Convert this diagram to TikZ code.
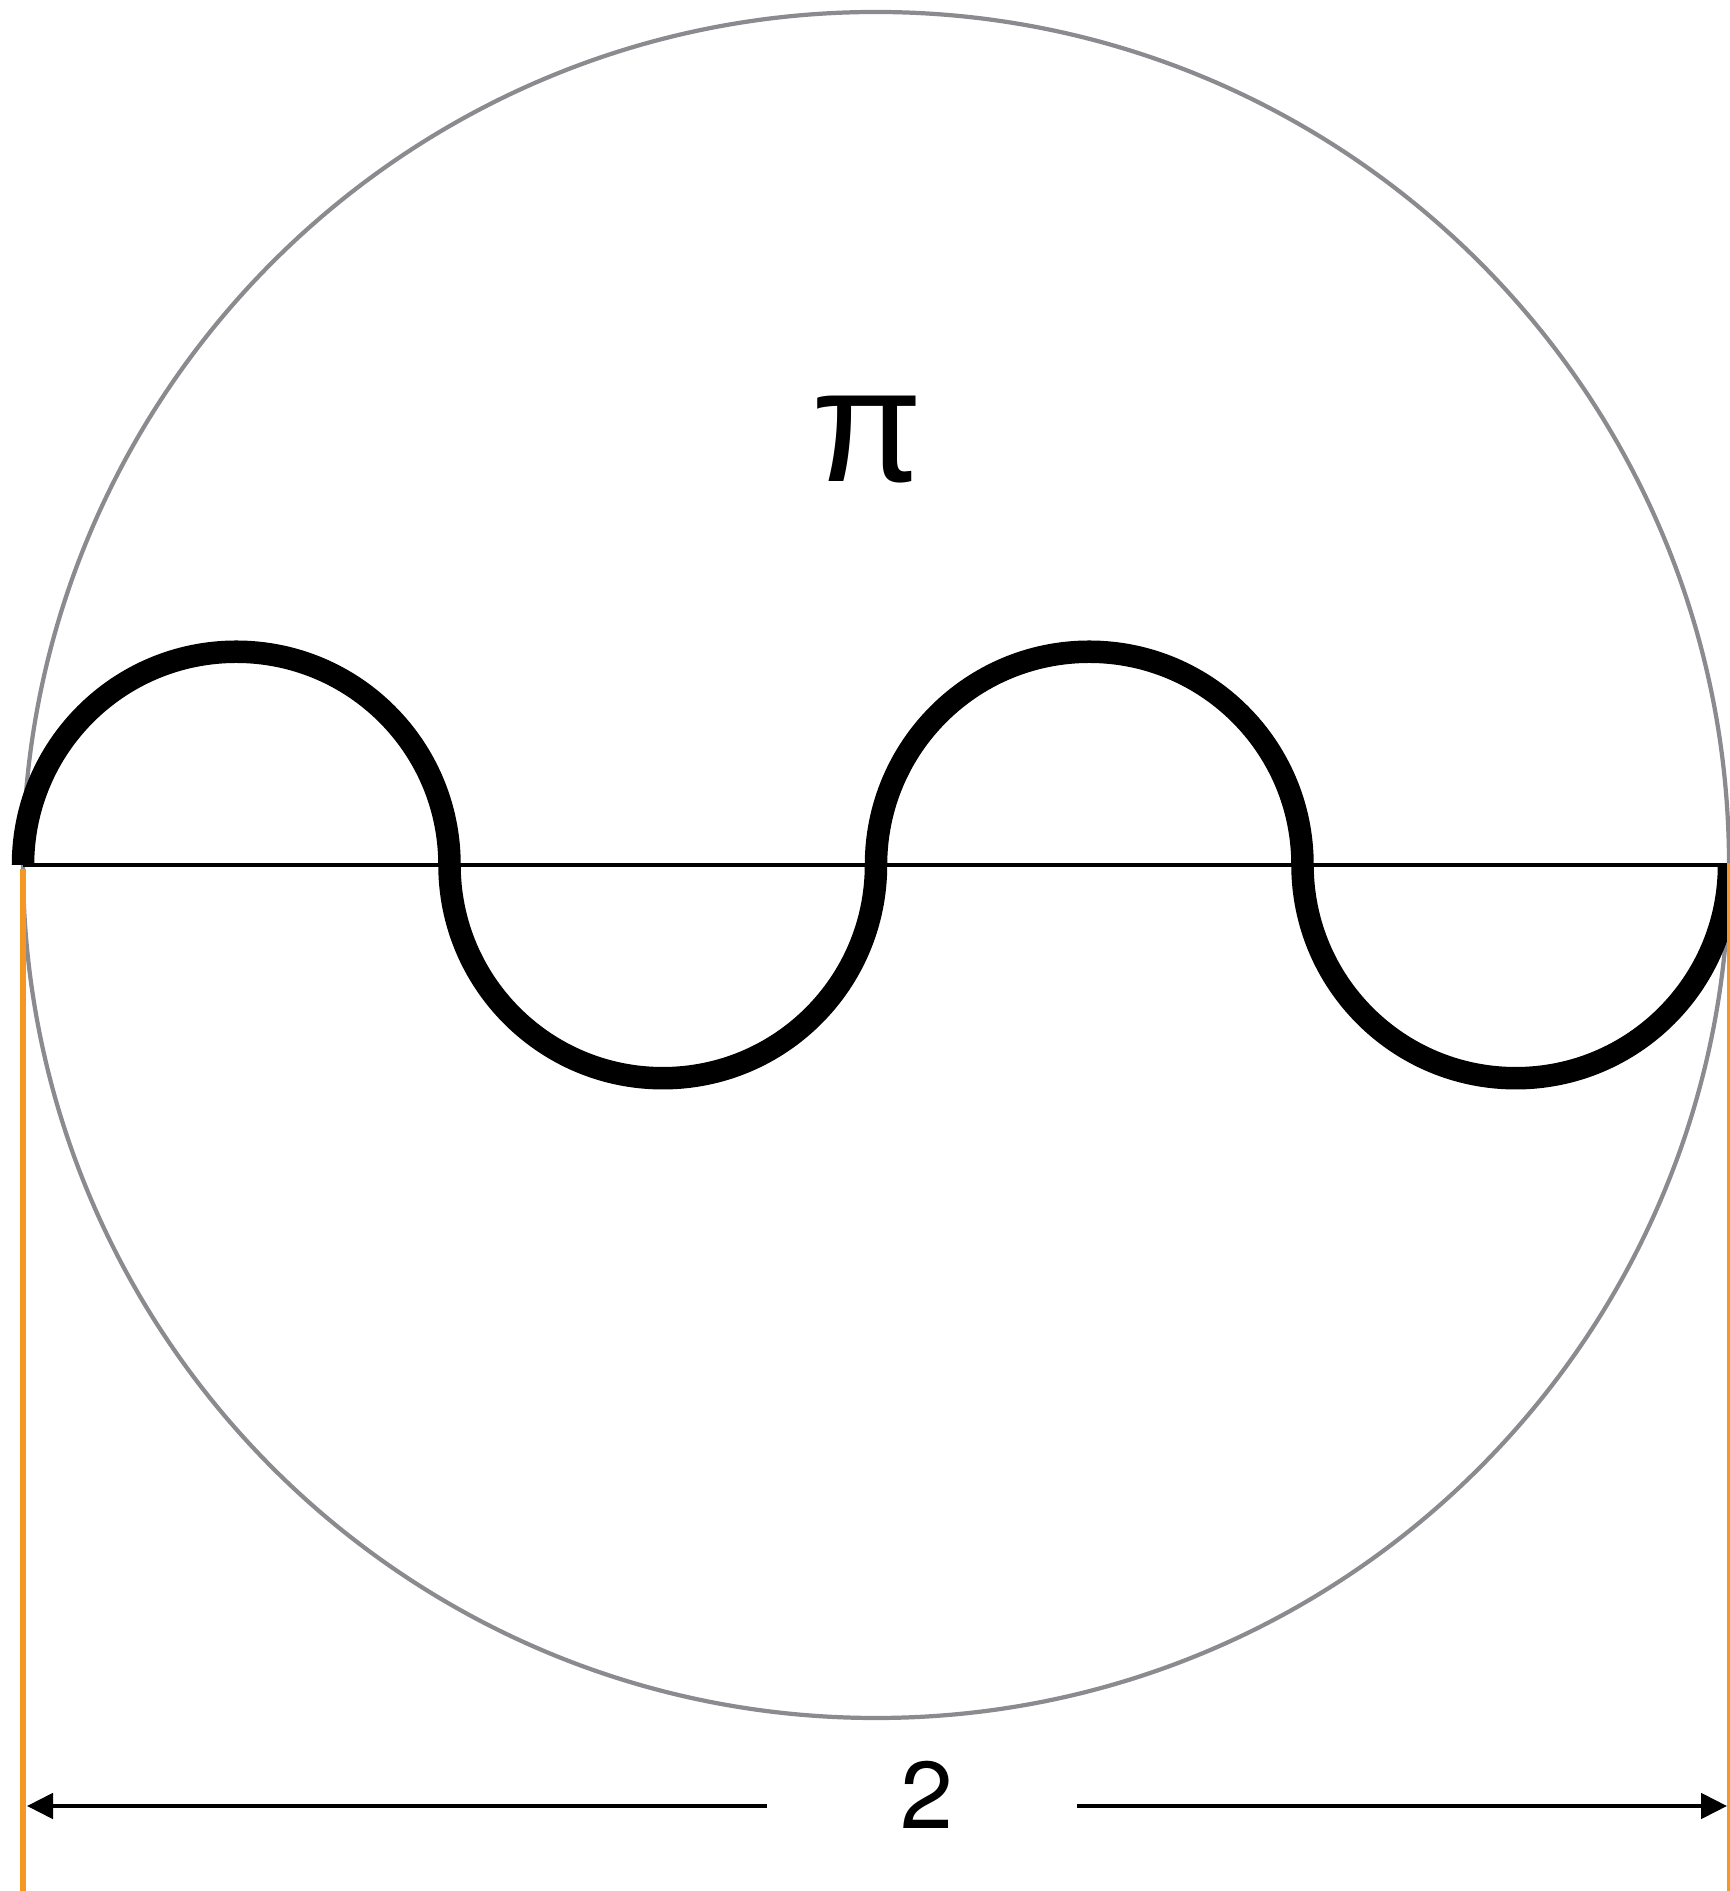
\documentclass[tikz,border=0pt]{standalone}
\usepackage{fontspec}
\setmainfont{TeX Gyre Heros}
\newfontfamily\pifont{Liberation Sans}
\usetikzlibrary{arrows.meta}
\definecolor{circgray}{RGB}{138,138,143}
\definecolor{dimorange}{RGB}{245,152,35}
\tikzset{
  circ/.style={draw=circgray, line width=1.2pt},
  wave/.style={draw=black, line width=6.4pt},
  axisline/.style={draw=black, line width=1.15pt},
  guide/.style={draw=dimorange, line width=1.45pt},
  dimarrow/.style={draw=black, line width=1.15pt, -{Triangle[length=7.4pt,width=7.2pt]}},
  lbl/.style={inner sep=0pt, anchor=base}
}
\begin{document}
\begin{tikzpicture}[x=0.01cm,y=0.01cm]
\useasboundingbox (0,0) rectangle (1729,1891);
% circle
\coordinate (c) at (876,1026);
\draw[circ] (c) circle (853);
% diameter
\coordinate (dl) at (23,1026);
\coordinate (dr) at (1729,1026);
\draw[axisline] (dl) -- (dr);
% wave
\draw[wave] (dl) arc (180:0:213.25) arc (180:360:213.25) arc (180:0:213.25) arc (180:360:213.25);
% guides
\coordinate (gl1) at (23,1022);
\coordinate (gl2) at (23,0);
\coordinate (gr1) at (1729.5,1028);
\coordinate (gr2) at (1729.5,0);
\draw[guide] (gl1) -- (gl2);
\draw[guide] (gr1) -- (gr2);
% labels
\node[lbl, font=\pifont\fontsize{46}{46}\selectfont] (pi) at (867,1409) {π};
\node[lbl, font=\fontsize{27}{27}\selectfont] (two) at (927,62) {2};
% dimension arrows
\coordinate (al) at (767,85);
\coordinate (atl) at (27,85);
\coordinate (ar) at (1077,85);
\coordinate (atr) at (1727,85);
\draw[dimarrow] (al) -- (atl);
\draw[dimarrow] (ar) -- (atr);
\end{tikzpicture}
\end{document}
